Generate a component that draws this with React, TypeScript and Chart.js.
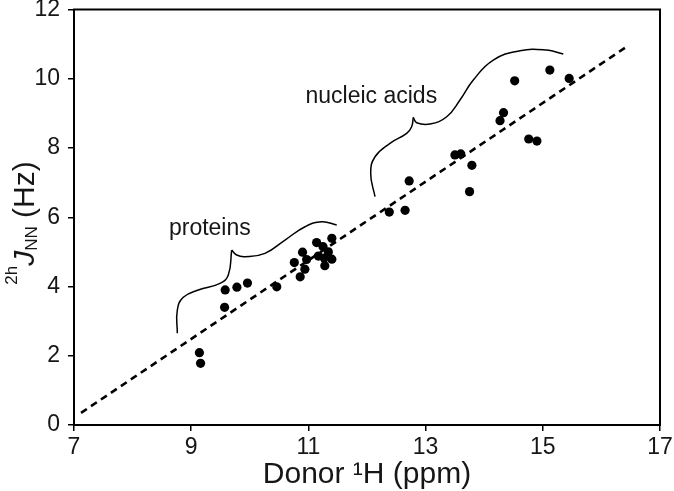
import React, { useEffect, useRef } from "react";
import { Chart, registerables } from "chart.js";

Chart.register(...registerables);

// ---- data ----
const proteinX = [9.14, 9.16, 9.57, 9.58, 9.78, 9.96, 10.46, 10.76, 10.86, 10.94, 10.9, 10.97, 11.14, 11.17, 11.25, 11.28, 11.27, 11.34, 11.4, 11.4];
const proteinY = [2.09, 1.78, 3.4, 3.9, 3.98, 4.1, 3.99, 4.69, 4.28, 4.5, 4.99, 4.78, 5.27, 4.88, 5.15, 4.6, 4.82, 5.0, 5.39, 4.79];

const nucleicX = [12.38, 12.65, 12.72, 13.5, 13.6, 13.79, 13.75, 14.27, 14.33, 14.52, 14.76, 14.9, 15.12, 15.45];
const nucleicY = [6.15, 6.2, 7.05, 7.8, 7.83, 7.5, 6.74, 8.79, 9.02, 9.94, 8.26, 8.2, 10.25, 10.01];

const fitX = [7.12, 16.47];
const fitY = [0.35, 10.97];

// braces (each split at the cusp)
const protBraceLX = [8.763, 8.763, 8.865, 9.121, 9.491, 9.633, 9.691];
const protBraceLY = [2.648, 3.321, 3.688, 3.898, 4.092, 4.331, 5.053];
const protBraceRX = [9.691, 9.776, 9.918, 10.259, 10.601, 10.942, 11.227, 11.483];
const protBraceRY = [5.053, 4.909, 4.86, 4.958, 5.342, 5.726, 5.871, 5.775];

const nucBraceLX = [12.137, 12.063, 12.137, 12.392, 12.677, 12.762, 12.79];
const nucBraceLY = [6.593, 7.268, 7.748, 8.135, 8.423, 8.614, 8.885];
const nucBraceRX = [12.79, 12.848, 13.075, 13.36, 13.587, 13.814, 14.155, 14.611, 15.067, 15.35];
const nucBraceRY = [8.885, 8.729, 8.692, 8.903, 9.385, 9.962, 10.54, 10.809, 10.829, 10.713];

const noteTexts = ["proteins", "nucleic acids"];
const noteX = [8.62, 10.95];
const noteY = [5.487, 9.298];

const xTicks = [7, 9, 11, 13, 15, 17];
const yTicks = [0, 2, 4, 6, 8, 10, 12];

const xTitle = "Donor \u00B9H (ppm)";
const yTitleSup = "2h";
const yTitleMain = "J";
const yTitleSub = "NN";
const yTitleTail = " (Hz)";

const FONT = "'Liberation Sans', Arial, Helvetica, sans-serif";
const INK = "#161616";

const pts = (xs: number[], ys: number[]) => xs.map((x, i) => ({ x, y: ys[i] }));

const decorPlugin = {
  id: "decor",
  afterDatasetsDraw(chart: any) {
    const { ctx, chartArea: a, scales } = chart;
    const xs = scales.x;
    const ys = scales.y;
    ctx.save();
    // frame
    ctx.strokeStyle = "#000";
    ctx.lineWidth = 2;
    ctx.strokeRect(a.left, a.top, a.right - a.left, a.bottom - a.top);

    // notes
    ctx.fillStyle = INK;
    ctx.font = `23px ${FONT}`;
    ctx.textAlign = "left";
    ctx.textBaseline = "alphabetic";
    noteTexts.forEach((t, i) => {
      ctx.fillText(t, xs.getPixelForValue(noteX[i]), ys.getPixelForValue(noteY[i]));
    });

    // x title
    ctx.font = `30px ${FONT}`;
    ctx.textAlign = "center";
    ctx.fillText(xTitle, (a.left + a.right) / 2, 483);

    // y title (rotated)
    const mainFont = `30px ${FONT}`;
    const italFont = `italic 30px ${FONT}`;
    const smallFont = `17px ${FONT}`;
    ctx.font = smallFont;
    const wSup = ctx.measureText(yTitleSup).width;
    const wSub = ctx.measureText(yTitleSub).width;
    ctx.font = italFont;
    const wJ = ctx.measureText(yTitleMain).width;
    ctx.font = mainFont;
    const wTail = ctx.measureText(yTitleTail).width;
    const total = wSup + wJ + wSub + wTail;
    const cy = 223;
    ctx.translate(34, cy);
    ctx.rotate(-Math.PI / 2);
    ctx.textAlign = "left";
    let tx = -total / 2;
    ctx.font = smallFont;
    ctx.fillText(yTitleSup, tx, -17);
    tx += wSup;
    ctx.font = italFont;
    ctx.fillText(yTitleMain, tx, 0);
    tx += wJ;
    ctx.font = smallFont;
    ctx.fillText(yTitleSub, tx, 3);
    tx += wSub;
    ctx.font = mainFont;
    ctx.fillText(yTitleTail, tx, 0);
    ctx.restore();
  },
};

export default function App() {
  const ref = useRef<HTMLCanvasElement | null>(null);

  useEffect(() => {
    if (!ref.current) return;
    const braceDs = (xs: number[], ys: number[]) => ({
      data: pts(xs, ys),
      showLine: true,
      borderColor: "#000",
      borderWidth: 1.5,
      pointRadius: 0,
      tension: 0.45,
      fill: false,
    });
    const chart = new Chart(ref.current, {
      type: "scatter",
      data: {
        datasets: [
          {
            data: pts(proteinX, proteinY),
            pointRadius: 4.6,
            pointBackgroundColor: "#000",
            pointBorderWidth: 0,
          },
          {
            data: pts(nucleicX, nucleicY),
            pointRadius: 4.6,
            pointBackgroundColor: "#000",
            pointBorderWidth: 0,
          },
          {
            data: pts(fitX, fitY),
            showLine: true,
            borderColor: "#000",
            borderWidth: 2.6,
            borderDash: [7, 5],
            pointRadius: 0,
            fill: false,
          },
          braceDs(protBraceLX, protBraceLY),
          braceDs(protBraceRX, protBraceRY),
          braceDs(nucBraceLX, nucBraceLY),
          braceDs(nucBraceRX, nucBraceRY),
        ] as any,
      },
      options: {
        animation: false,
        responsive: true,
        maintainAspectRatio: false,
        layout: { autoPadding: false, padding: { left: 0, right: 14, top: 9.5, bottom: 0 } } as any,
        plugins: { legend: { display: false }, tooltip: { enabled: false } },
        scales: {
          x: {
            type: "linear",
            min: 7,
            max: 17,
            afterFit: (s: any) => {
              s.height = 66;
              s.paddingLeft = 0;
              s.paddingRight = 0;
            },
            afterBuildTicks: (s: any) => {
              s.ticks = xTicks.map((v) => ({ value: v }));
            },
            ticks: {
              color: INK,
              font: { family: FONT, size: 23 },
              padding: 3,
              maxRotation: 0,
              autoSkip: false,
            },
            grid: { drawOnChartArea: false, drawTicks: true, tickLength: 6, color: "#000", lineWidth: 1.5 },
            border: { display: true, color: "#000", width: 2 },
          },
          y: {
            type: "linear",
            min: 0,
            max: 12,
            afterFit: (s: any) => {
              s.width = 74;
              s.paddingTop = 0;
              s.paddingBottom = 0;
            },
            afterBuildTicks: (s: any) => {
              s.ticks = yTicks.map((v) => ({ value: v }));
            },
            ticks: {
              color: INK,
              font: { family: FONT, size: 23 },
              padding: 8,
              autoSkip: false,
            },
            grid: { drawOnChartArea: false, drawTicks: true, tickLength: 6, color: "#000", lineWidth: 1.5 },
            border: { display: true, color: "#000", width: 2 },
          },
        },
      },
      plugins: [decorPlugin],
    });
    return () => chart.destroy();
  }, []);

  return (
    <div style={{ position: "fixed", left: 0, top: 0, width: 674, height: 491, background: "#fff" }}>
      <canvas ref={ref} />
    </div>
  );
}
